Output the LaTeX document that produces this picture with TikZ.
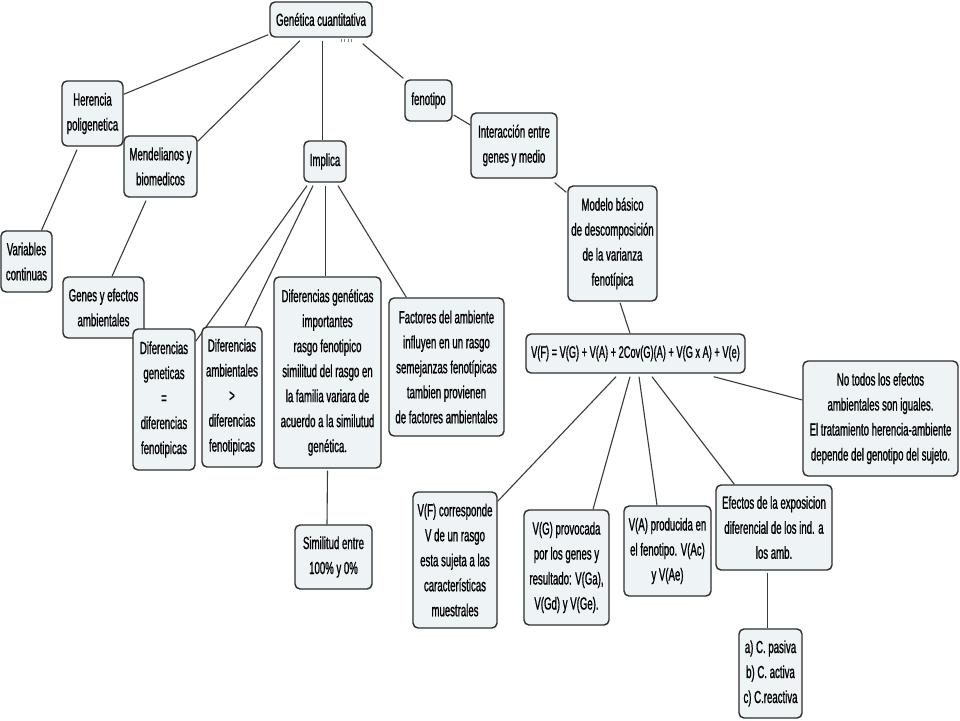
\documentclass[tikz,border=0pt]{standalone}
\usepackage{fontspec}
\setmainfont[FakeStretch=0.55,FakeBold=0.9]{Liberation Sans}
\usetikzlibrary{calc}
\pgfdeclarelayer{bg}
\pgfsetlayers{bg,main}
\definecolor{boxfill}{HTML}{EEF3F6}
\definecolor{boxline}{HTML}{2E2E2E}
\definecolor{linkc}{HTML}{3A3A3A}
\tikzset{
  box/.style={draw=boxline, line width=1.4pt, fill=boxfill, rounded corners=5pt,
    align=center, inner sep=1pt, font=\fontsize{17.5}{25}\selectfont},
  link/.style={draw=linkc, line width=1.1pt},
}
\begin{document}
\begin{tikzpicture}[x=1pt,y=-1pt]
\useasboundingbox (0,0) rectangle (960,720);
\begin{pgfonlayer}{bg}
\fill[white] (0,0) rectangle (960,720);
\end{pgfonlayer}
% nodes
\node[box, minimum width=102pt, minimum height=35pt] (gen) at (321,19.5) {Genética cuantitativa};
\node[box, minimum width=47pt, minimum height=41pt] (fen) at (428.5,100.5) {fenotipo};
\node[box, minimum width=86pt, minimum height=65pt] (inter) at (514,145.5) {Interacción entre\\genes y medio};
\node[box, minimum width=42pt, minimum height=41pt] (impl) at (325,161.5) {Implica};
\node[box, minimum width=61pt, minimum height=65pt] (her) at (92.5,113.5) {Herencia\\poligenetica};
\node[box, minimum width=73pt, minimum height=61pt] (mend) at (160.5,166.5) {Mendelianos y\\biomedicos};
\node[box, minimum width=51pt, minimum height=61pt] (var) at (26.5,261.5) {Variables\\continuas};
\node[box, minimum width=81pt, minimum height=61pt] (genef) at (103.5,307.5) {Genes y efectos\\ambientales};
\node[box, minimum width=62pt, minimum height=141pt] (difgen) at (164,399.5) {Diferencias\\geneticas\\=\\diferencias\\fenotipicas};
\node[box, minimum width=60pt, minimum height=140pt] (difamb) at (232,397) {Diferencias\\ambientales\\>\\diferencias\\fenotipicas};
\node[box, minimum width=107pt, minimum height=191pt] (difgen2) at (327.5,372.5) {Diferencias genéticas\\importantes\\rasgo fenotipico\\similitud del rasgo en\\la familia variara de\\acuerdo a la similutud\\genética.};
\node[box, minimum width=115pt, minimum height=138pt] (fact) at (446.5,367) {Factores del ambiente\\influyen en un rasgo\\semejanzas fenotípicas\\tambien provienen\\de factores ambientales};
\node[box, minimum width=77pt, minimum height=64pt] (simil) at (333.5,557) {Similitud entre\\100\% y 0\%};
\node[box, minimum width=89pt, minimum height=115pt] (modelo) at (612.5,243.5) {Modelo básico\\de descomposición\\de la varianza\\fenotípica};
\node[box, minimum width=219pt, minimum height=39pt, font=\fontsize{16.8}{25}\selectfont] (eq) at (635.5,353.5) {V(F) = V(G) + V(A) + 2Cov(G)(A) + V(G x A) + V(e)};
\node[box, minimum width=155pt, minimum height=115pt] (notodos) at (880.5,418.5) {No todos los efectos\\ambientales son iguales.\\El tratamiento herencia-ambiente\\depende del genotipo del sujeto.};
\node[box, minimum width=84pt, minimum height=136pt] (vfc) at (455,560) {V(F) corresponde\\V de un rasgo\\esta sujeta a las\\características\\muestrales};
\node[box, minimum width=85pt, minimum height=115pt] (vg) at (566.5,567.5) {V(G) provocada\\por los genes y\\resultado: V(Ga),\\V(Gd) y V(Ge).};
\node[box, minimum width=87pt, minimum height=90pt] (va) at (667.5,551) {V(A) producida en\\el fenotipo. V(Ac)\\y V(Ae)};
\node[box, minimum width=116pt, minimum height=85pt] (efec) at (774,527.5) {Efectos de la exposicion\\diferencial de los ind. a\\los amb.};
\node[box, minimum width=63pt, minimum height=89pt] (pas) at (770.5,673.5) {a) C. pasiva\\b) C. activa\\c) C.reactiva};
% small ticks under the root
\foreach \xx in {341,344.5,348,351.5} \draw[gray, line width=0.8pt] (\xx,39) -- (\xx,42);
% connectors (behind the boxes)
\begin{pgfonlayer}{bg}
\draw[link] ($(gen.south west)+(-1,-3)$) -- ($(her.north east)+(0,14)$);
\draw[link] ($(gen.south)+(-21,3)$) -- ($(mend.north east)+(0,6)$);
\draw[link] ($(gen.south)+(1.3,3)$) -- ($(impl.north)+(-2.7,0)$);
\draw[link] ($(gen.south east)+(-10,6)$) -- ($(fen.north west)+(-1,-1)$);
\draw[link] ($(fen.east)+(1,14.5)$) -- ($(inter.west)+(0,-20.5)$);
\draw[link] ($(inter.south east)+(-3,4)$) -- ($(modelo.north west)+(-1,7)$);
\draw[link] ($(her.south)+(-15.5,3)$) -- ($(var.north)+(15,0)$);
\draw[link] ($(mend.south)+(-14.5,3)$) -- ($(genef.north)+(8.5,0)$);
\draw[link] ($(impl.south)+(-18,3)$) -- ($(difgen.north east)+(0,13)$);
\draw[link] ($(impl.south)+(-12,3)$) -- ($(difamb.north)+(13,0)$);
\draw[link] ($(impl.south)+(0.5,3)$) -- ($(difgen2.north)+(-2,0)$);
\draw[link] ($(impl.south)+(13,3)$) -- ($(fact.north west)+(18,0)$);
\draw[link] ($(difgen2.south)+(0,2)$) -- ($(simil.north)+(-6.5,0)$);
\draw[link] ($(modelo.south)+(7.5,1)$) -- ($(eq.north)+(-5.5,0)$);
\draw[link] ($(eq.south)+(-19.5,3)$) -- ($(vfc.north east)+(0,10)$);
\draw[link] ($(eq.south)+(-5.5,3)$) -- ($(vg.north)+(26.5,0)$);
\draw[link] ($(eq.south)+(3.5,3)$) -- ($(va.north)+(-10.5,0)$);
\draw[link] ($(eq.south)+(16.5,3)$) -- ($(efec.north west)+(19,0)$);
\draw[link] ($(eq.south east)+(-32,3)$) -- ($(notodos.west)+(0,-18.5)$);
\draw[link] ($(efec.south)+(-6.5,2)$) -- ($(pas.north)+(-3,0)$);
\end{pgfonlayer}
\end{tikzpicture}
\end{document}
